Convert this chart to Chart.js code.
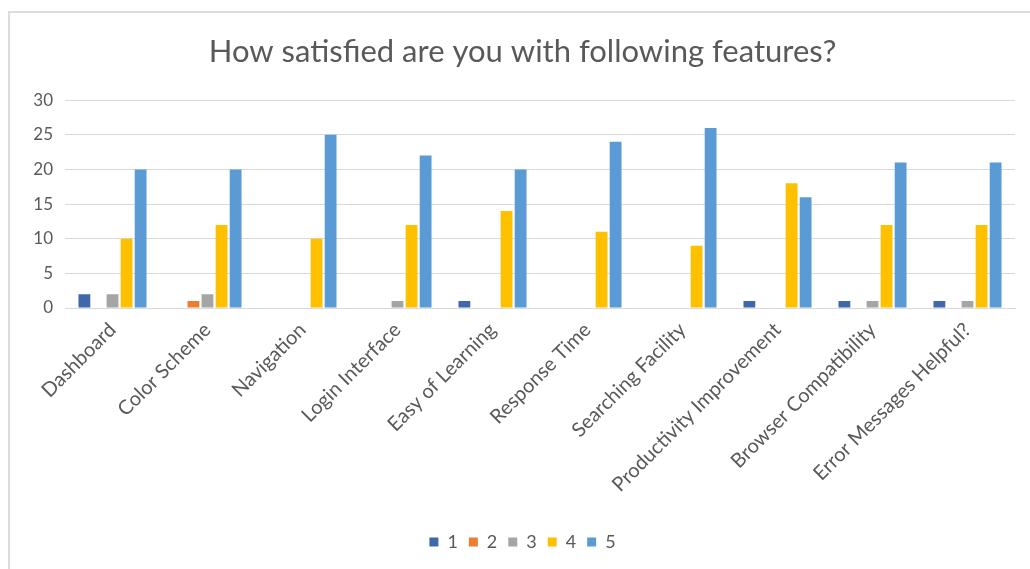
<!DOCTYPE html>
<html>
<head>
<meta charset="utf-8">
<script src="https://cdn.jsdelivr.net/npm/chart.js@4/dist/chart.umd.min.js"></script>
<style>
html,body{margin:0;padding:0;background:#fff;}
#wrap{position:absolute;left:0;top:0;width:1030px;height:569px;}
#frame{position:absolute;left:8px;top:11px;width:1040px;height:600px;border-left:2px solid #dcdcdc;border-top:2px solid #dcdcdc;pointer-events:none;}
canvas{position:absolute;left:0;top:0;}
</style>
</head>
<body>
<div id="wrap">
<canvas id="c" width="1030" height="569"></canvas>
<div id="frame"></div>
</div>
<script>
const categories = ["Dashboard","Color Scheme","Navigation","Login Interface","Easy of Learning","Response Time","Searching Facility","Productivity Improvement","Browser Compatibility","Error Messages Helpful?"];
const seriesNames = ["1","2","3","4","5"];
const s1 = [2,0,0,0,1,0,0,1,1,1];
const s2 = [0,1,0,0,0,0,0,0,0,0];
const s3 = [2,2,0,1,0,0,0,0,1,1];
const s4 = [10,12,10,12,14,11,9,18,12,12];
const s5 = [20,20,25,22,20,24,26,16,21,21];
const colors = ["#3F68AA","#ED7D31","#A5A5A5","#FFC000","#5B9BD5"];
const FONT = "Lato, 'Open Sans', sans-serif";
const txt = "#595959";

const data = {
  labels: categories,
  datasets: [s1,s2,s3,s4,s5].map((d,i)=>({
    label: seriesNames[i],
    data: d,
    backgroundColor: colors[i],
    borderWidth: 0,
    categoryPercentage: 0.74,
    barPercentage: 0.84
  }))
};

new Chart(document.getElementById('c'), {
  type: 'bar',
  data: data,
  options: {
    responsive: false,
    animation: false,
    layout: {padding: {left: 30, right: 15, top: 0, bottom: 8}},
    plugins: {
      title: {
        display: true,
        text: "How satisfied are you with following features?",
        color: txt,
        font: {family: FONT, size: 31, weight: 'normal'},
        padding: {top: 33, bottom: 30}
      },
      legend: {
        position: 'bottom',
        labels: {
          color: txt,
          font: {family: FONT, size: 18},
          boxWidth: 9,
          boxHeight: 9,
          padding: 11
        }
      },
      tooltip: {enabled: false}
    },
    scales: {
      x: {
        grid: {display: false},
        border: {display: true, color: "#d9d9d9", width: 1},
        ticks: {color: txt, font: {family: FONT, size: 20}, maxRotation: 45, minRotation: 45, padding: 2},
        afterFit: (s) => { s.height = 214; }
      },
      y: {
        min: 0, max: 30,
        grid: {color: "#d9d9d9", drawTicks: false},
        border: {display: false},
        ticks: {stepSize: 5, color: txt, font: {family: FONT, size: 17}, padding: 12},
        afterFit: (s) => { s.width = 35; }
      }
    }
  }
});
</script>
</body>
</html>
